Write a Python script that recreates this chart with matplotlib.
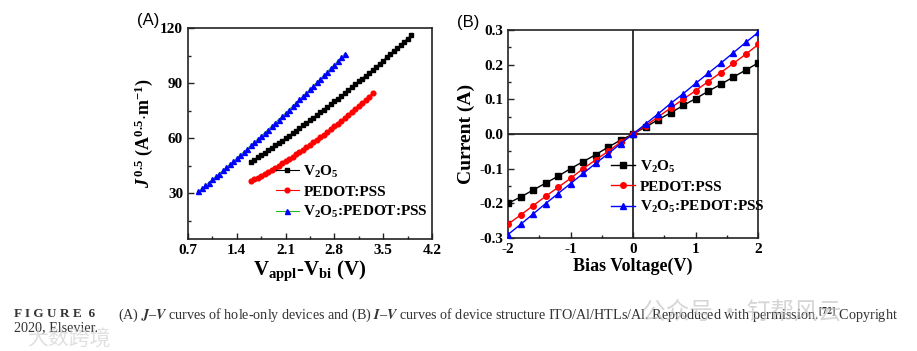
import numpy as np
import matplotlib
matplotlib.use("Agg")
import matplotlib.pyplot as plt
from matplotlib.ticker import MultipleLocator, FixedLocator

plt.rcParams['font.family'] = ['Liberation Serif', 'DejaVu Serif']
plt.rcParams['font.weight'] = 'bold'
plt.rcParams['axes.labelweight'] = 'bold'
plt.rcParams['mathtext.fontset'] = 'custom'
plt.rcParams['mathtext.rm'] = 'Liberation Serif:bold'
plt.rcParams['mathtext.bf'] = 'Liberation Serif:bold'
plt.rcParams['mathtext.it'] = 'Liberation Serif:italic:bold'
plt.rcParams['mathtext.default'] = 'rm'

# ---- panel A: J^0.5 vs (Vappl - Vbi) ----
va_v2o5 = [1.60, 1.65, 1.70, 1.75, 1.80, 1.85, 1.90, 1.95, 2.00, 2.05, 2.10, 2.15,
           2.20, 2.25, 2.30, 2.35, 2.40, 2.45, 2.50, 2.55, 2.60, 2.65, 2.70, 2.75,
           2.80, 2.85, 2.90, 2.95, 3.00, 3.05, 3.10, 3.15, 3.20, 3.25, 3.30, 3.35,
           3.40, 3.45, 3.50, 3.55, 3.60, 3.65, 3.70, 3.75, 3.80, 3.85, 3.90]
ja_v2o5 = [47.0, 48.2, 49.5, 50.8, 52.0, 53.3, 54.6, 56.0, 57.3, 58.6, 60.0, 61.3,
           62.7, 64.1, 65.5, 66.9, 68.3, 69.7, 71.2, 72.6, 74.1, 75.5, 77.0, 78.5,
           80.0, 81.5, 83.1, 84.6, 86.2, 87.7, 89.3, 90.9, 92.5, 94.1, 95.7, 97.3,
           99.0, 100.6, 102.3, 104.0, 105.7, 107.4, 109.1, 110.8, 112.5, 114.3, 116.0]

va_pedot = [1.60, 1.65, 1.70, 1.75, 1.80, 1.85, 1.90, 1.95, 2.00, 2.05, 2.10, 2.15,
            2.20, 2.25, 2.30, 2.35, 2.40, 2.45, 2.50, 2.55, 2.60, 2.65, 2.70, 2.75,
            2.80, 2.85, 2.90, 2.95, 3.00, 3.05, 3.10, 3.15, 3.20, 3.25, 3.30, 3.35]
ja_pedot = [36.5, 37.5, 38.5, 39.5, 40.6, 41.6, 42.7, 43.9, 45.0, 46.2, 47.4, 48.6,
            49.8, 51.1, 52.3, 53.6, 55.0, 56.3, 57.7, 59.1, 60.5, 61.9, 63.4, 64.9,
            66.4, 67.9, 69.5, 71.1, 72.7, 74.3, 75.9, 77.6, 79.3, 81.0, 82.7, 84.5]

va_blend = [0.85, 0.90, 0.95, 1.00, 1.05, 1.10, 1.15, 1.20, 1.25, 1.30, 1.35, 1.40,
            1.45, 1.50, 1.55, 1.60, 1.65, 1.70, 1.75, 1.80, 1.85, 1.90, 1.95, 2.00,
            2.05, 2.10, 2.15, 2.20, 2.25, 2.30, 2.35, 2.40, 2.45, 2.50, 2.55, 2.60,
            2.65, 2.70, 2.75, 2.80, 2.85, 2.90, 2.95]
ja_blend = [31.0, 32.6, 34.2, 35.8, 37.5, 39.1, 40.7, 42.4, 44.1, 45.7, 47.4, 49.1,
            50.8, 52.5, 54.2, 56.0, 57.7, 59.4, 61.2, 62.9, 64.7, 66.5, 68.3, 70.1,
            71.9, 73.7, 75.5, 77.4, 79.2, 81.1, 82.9, 84.8, 86.7, 88.6, 90.5, 92.4,
            94.3, 96.2, 98.2, 100.1, 102.1, 104.0, 106.0]

# ---- panel B: I-V ----
vb = [-2.0, -1.8, -1.6, -1.4, -1.2, -1.0, -0.8, -0.6, -0.4, -0.2, 0.0,
      0.2, 0.4, 0.6, 0.8, 1.0, 1.2, 1.4, 1.6, 1.8, 2.0]
ib_v2o5 = [-0.200, -0.182, -0.162, -0.142, -0.122, -0.100, -0.080, -0.060, -0.038, -0.018, 0.0,
           0.020, 0.041, 0.061, 0.082, 0.102, 0.123, 0.143, 0.164, 0.184, 0.205]
ib_pedot = [-0.260, -0.234, -0.207, -0.180, -0.154, -0.128, -0.100, -0.075, -0.050, -0.024, 0.0,
            0.024, 0.049, 0.075, 0.100, 0.125, 0.151, 0.177, 0.203, 0.230, 0.258]
ib_blend = [-0.290, -0.261, -0.231, -0.201, -0.172, -0.143, -0.114, -0.085, -0.057, -0.028, 0.0,
            0.029, 0.058, 0.088, 0.116, 0.146, 0.175, 0.204, 0.234, 0.264, 0.293]

labels = [r'V$_2$O$_5$', 'PEDOT:PSS', r'V$_2$O$_5$:PEDOT:PSS']

fig = plt.figure(figsize=(9.17, 3.51), dpi=100)
axA = fig.add_axes([0.205, 0.319, 0.266, 0.601])
axB = fig.add_axes([0.554, 0.322, 0.273, 0.593])

for ax in (axA, axB):
    for s in ax.spines.values():
        s.set_linewidth(1.2)
        s.set_color('#222222')
    ax.tick_params(which='both', direction='in', top=False, right=False,
                   labelsize=11, width=1.0, color='#222222')
    ax.tick_params(which='major', length=4)
    ax.tick_params(which='minor', length=2.5)

# panel A
axA.plot(va_v2o5, ja_v2o5, '-s', color='black', ms=3.2, lw=0.8, label=labels[0])
axA.plot(va_pedot, ja_pedot, '-o', color='red', ms=3.4, lw=0.8, label=labels[1])
axA.plot(va_blend, ja_blend, '-^', color='#22bb22', mfc='blue', mec='blue',
         ms=3.6, lw=0.8, label=labels[2])
axA.set_xlim(0.7, 4.2)
axA.set_ylim(5, 120)
axA.xaxis.set_major_locator(FixedLocator([0.7, 1.4, 2.1, 2.8, 3.5, 4.2]))
axA.xaxis.set_minor_locator(FixedLocator([1.05, 1.75, 2.45, 3.15, 3.85]))
axA.yaxis.set_major_locator(FixedLocator([30, 60, 90, 120]))
axA.yaxis.set_minor_locator(FixedLocator([15, 45, 75, 105]))
axA.set_xticklabels(['0.7', '1.4', '2.1', '2.8', '3.5', '4.2'])
axA.set_xlabel(r'V$_{\mathbf{appl}}$-V$_{\mathbf{bi}}$ (V)', fontsize=15, labelpad=1)
axA.set_ylabel(r'$\mathit{J}^{\,0.5}$ (A$^{0.5}$$\cdot$m$^{-1}$)', fontsize=13, labelpad=4)
axA.legend(loc='lower left', bbox_to_anchor=(0.36, 0.09), frameon=False,
           fontsize=11, handlelength=1.5, handletextpad=0.3, labelspacing=0.35,
           borderpad=0, borderaxespad=0)

# panel B
axB.axhline(0, color='black', lw=1.1, zorder=1)
axB.axvline(0, color='black', lw=1.1, zorder=1)
axB.plot(vb, ib_v2o5, '-s', color='black', ms=3.8, lw=1.0, label=labels[0], zorder=3)
axB.plot(vb, ib_pedot, '-o', color='red', ms=4.0, lw=1.0, label=labels[1], zorder=3)
axB.plot(vb, ib_blend, '-^', color='blue', ms=4.2, lw=1.0, label=labels[2], zorder=3)
axB.set_xlim(-2, 2)
axB.set_ylim(-0.3, 0.3)
axB.xaxis.set_major_locator(MultipleLocator(1))
axB.xaxis.set_minor_locator(MultipleLocator(0.5))
axB.yaxis.set_major_locator(MultipleLocator(0.1))
axB.yaxis.set_minor_locator(MultipleLocator(0.05))
axB.set_yticklabels([f'{v:.1f}' for v in axB.get_yticks()])
axB.set_xticklabels([f'{v:g}' for v in axB.get_xticks()])
axB.set_xlabel('Bias Voltage(V)', fontsize=13, labelpad=1)
axB.set_ylabel('Current (A)', fontsize=14, labelpad=3)
axB.legend(loc='lower left', bbox_to_anchor=(0.41, 0.11), frameon=False,
           fontsize=11, handlelength=1.6, handletextpad=0.3, labelspacing=0.35,
           borderpad=0, borderaxespad=0)

fig.text(0.149, 0.943, '(A)', family='Liberation Sans', weight='normal', fontsize=12,
         ha='left', va='center')
fig.text(0.498, 0.937, '(B)', family='Liberation Sans', weight='normal', fontsize=12,
         ha='left', va='center')

# caption
cap_col = '#333333'
fig.text(0.015, 0.104, 'F I G U R E  6', fontsize=9.5, weight='bold', color=cap_col,
         ha='left', va='center')
fig.text(0.129, 0.104,
         r'(A) $\mathit{J}$–$\mathit{V}$ curves of hole-only devices and (B) $\mathit{I}$–$\mathit{V}$ '
         r'curves of device structure ITO/Al/HTLs/Al. Reproduced with permission.$^{[72]}$ Copyright',
         fontsize=10.15, weight='normal', color=cap_col, ha='left', va='center',
         math_fontfamily='stix')
fig.text(0.015, 0.066, '2020, Elsevier.', fontsize=10.15, weight='normal', color=cap_col,
         ha='left', va='center')

# watermarks
fig.text(0.70, 0.108, '公众号 · 钉帮风云', family=['Noto Sans CJK SC', 'DejaVu Sans'],
         fontsize=17, weight='normal', color='#bbbbbb', alpha=0.6, ha='left', va='center')
fig.text(0.030, 0.032, '大数跨境', family=['Noto Sans CJK SC', 'DejaVu Sans'],
         fontsize=15, weight='normal', color='#cccccc', alpha=0.6, ha='left', va='center')

fig.savefig('out.png', dpi=100)
